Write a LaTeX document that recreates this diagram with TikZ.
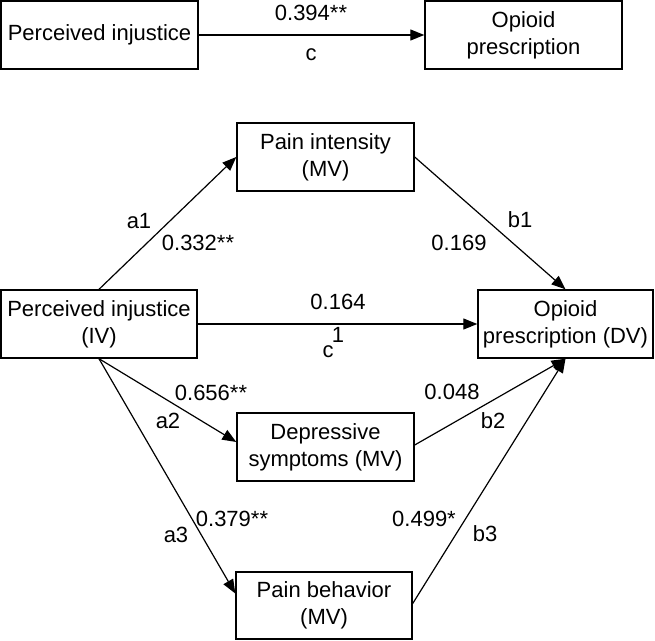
\documentclass[tikz,border=0pt]{standalone}
\usepackage{fontspec}
\setmainfont{Liberation Sans}
\usetikzlibrary{arrows.meta}
\begin{document}
\begin{tikzpicture}[x=1pt,y=-1pt,
  box/.style={draw,line width=1.4pt,rectangle,inner sep=0pt,align=center,font=\fontsize{22}{27}\selectfont},
  lbl/.style={inner sep=0pt,font=\fontsize{22}{27}\selectfont},
  conn/.style={line width=1.2pt,-{Triangle[length=14pt,width=11pt]}},
  seg/.style={line width=1.2pt}]
\useasboundingbox (0,0) rectangle (655,640);
% top model
\node[box,minimum width=197pt,minimum height=68pt] (tl) at (99.5,35) {Perceived injustice};
\node[box,minimum width=197pt,minimum height=68pt] (tr) at (523.5,35) {Opioid\\prescription};
\draw[conn] (tl.east) -- (tr.west);
\node[lbl] (c394) at (311,13) {0.394**};
\node[lbl] (ctop) at (311,55) {c};
% mediation model
\node[box,minimum width=177pt,minimum height=68pt] (PI) at (325.5,157) {Pain intensity\\(MV)};
\node[box,minimum width=196pt,minimum height=68pt] (IV) at (99,324) {Perceived injustice\\(IV)};
\node[box,minimum width=175pt,minimum height=68pt] (DV) at (565.5,324) {Opioid\\prescription (DV)};
\node[box,minimum width=177pt,minimum height=68pt] (Dep) at (325.5,447) {Depressive\\symptoms (MV)};
\node[box,minimum width=176pt,minimum height=67pt] (PB) at (324,605.5) {Pain behavior\\(MV)};
% connectors
\draw[conn] (IV.north) -- (PI.west);
\draw[conn] (PI.east) -- (DV.north);
\draw[conn] (IV.east) -- (DV.west);
\draw[conn] (IV.south) -- ([yshift=5pt]Dep.west);
\draw[conn] (IV.south) -- ([yshift=12pt]PB.west);
\draw[conn] ([yshift=2pt]Dep.east) -- (DV.south);
\draw[conn] ([yshift=2pt]PB.east) -- (DV.south);
% labels
\node[lbl] (la1) at (139,221) {a1};
\node[lbl] (v332) at (198,243) {0.332**};
\node[lbl] (lb1) at (520,220) {b1};
\node[lbl] (v169) at (459,243) {0.169};
\node[lbl] (v164) at (338,302) {0.164};
\node[lbl] (lone) at (338,335) {1};
\node[lbl] (lc) at (328,352) {c};
\node[lbl] (v656) at (211,393) {0.656**};
\node[lbl] (la2) at (168,421) {a2};
\node[lbl] (v048) at (452,392) {0.048};
\node[lbl] (lb2) at (493,421) {b2};
\node[lbl] (la3) at (176,535) {a3};
\node[lbl] (v379) at (232,519) {0.379**};
\node[lbl] (v499) at (424,519) {0.499*};
\node[lbl] (lb3) at (485,534) {b3};
\end{tikzpicture}
\end{document}
